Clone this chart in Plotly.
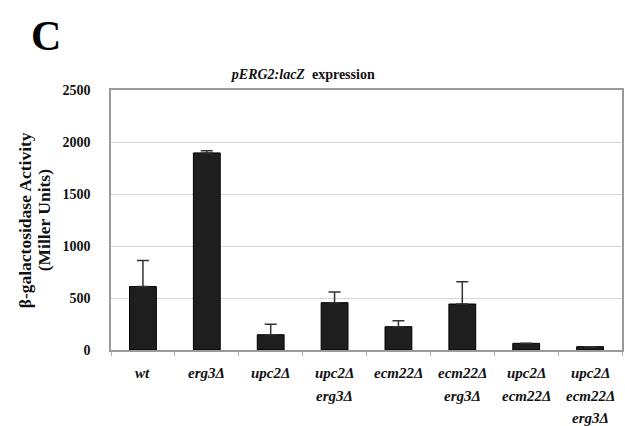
import plotly.graph_objects as go

categories = ["wt", "erg3Δ", "upc2Δ", "upc2Δ<br>erg3Δ", "ecm22Δ", "ecm22Δ<br>erg3Δ",
              "upc2Δ<br>ecm22Δ", "upc2Δ<br>ecm22Δ<br>erg3Δ"]
activity = [610, 1895, 147, 455, 224, 442, 64, 32]
error_plus = [250, 22, 100, 103, 58, 215, 0, 0]
y_ticks = [0, 500, 1000, 1500, 2000, 2500]
y_title_lines = ["β-galactosidase Activity", "(Miller Units)"]

SERIF = "Liberation Serif"

# plot area in pixels
L, R, T, B = 111, 624, 90, 350


def px_x(p):
    return (p - L) / (R - L)


def px_y(p):
    return (B - p) / (B - T)


fig = go.Figure()
fig.add_trace(go.Bar(
    x=list(range(len(categories))),
    y=activity,
    width=0.42,
    marker=dict(color="#1e1e1e", line=dict(color="#000000", width=1)),
    error_y=dict(type="data", symmetric=False, array=error_plus,
                 arrayminus=[0] * len(activity), color="#333333",
                 thickness=1.5, width=6),
    showlegend=False,
))

annotations = []
for i, lab in enumerate(categories):
    for j, line in enumerate(lab.split("<br>")):
        annotations.append(dict(
            x=i, y=0, xref="x", yref="paper", text="<b><i>" + line + "</i></b>",
            showarrow=False, yanchor="middle", xanchor="center",
            yshift=-(23 + 22.5 * j),
            font=dict(family=SERIF, size=15, color="#111111"),
        ))

for k, (line, xc) in enumerate(zip(y_title_lines, [25, 44])):
    annotations.append(dict(
        x=px_x(xc), y=px_y(220), xref="paper", yref="paper",
        xanchor="center", yanchor="middle", textangle=-90, showarrow=False,
        text="<b>" + line + "</b>",
        font=dict(family=SERIF, size=17.5, color="#111111"),
    ))
annotations.append(dict(
    x=px_x(46), y=px_y(36), xref="paper", yref="paper",
    xanchor="center", yanchor="middle", showarrow=False,
    text="<b>C</b>", font=dict(family=SERIF, size=42, color="#000000"),
))

fig.update_layout(
    width=625, height=426,
    margin=dict(l=L, r=625 - R, t=T, b=426 - B),
    paper_bgcolor="white", plot_bgcolor="white",
    title=dict(text="<b><i>pERG2:lacZ</i>  expression</b>",
               x=px_x(304), xanchor="center", xref="paper",
               y=1 - 74 / 426, yanchor="middle", yref="container",
               font=dict(family=SERIF, size=14, color="#111111")),
    xaxis=dict(range=[-0.5, len(categories) - 0.5], tickmode="array",
               tickvals=[i - 0.5 for i in range(len(categories) + 1)],
               ticktext=[""] * (len(categories) + 1),
               ticks="outside", ticklen=4, tickcolor="#b0b0b0",
               showline=True, linecolor="#9a9a9a", linewidth=1.5, mirror=True,
               showgrid=False, zeroline=False),
    yaxis=dict(range=[0, 2500], tickvals=y_ticks,
               ticktext=["<b>%d</b>" % v for v in y_ticks],
               tickfont=dict(family=SERIF, size=14, color="#111111"),
               showline=True, linecolor="#9a9a9a", linewidth=1.5, mirror=True,
               showgrid=True, gridcolor="#d6d6d6", gridwidth=1,
               zeroline=False, ticks="", ticklabelstandoff=16),
    annotations=annotations,
)

fig.write_html("out.html")
